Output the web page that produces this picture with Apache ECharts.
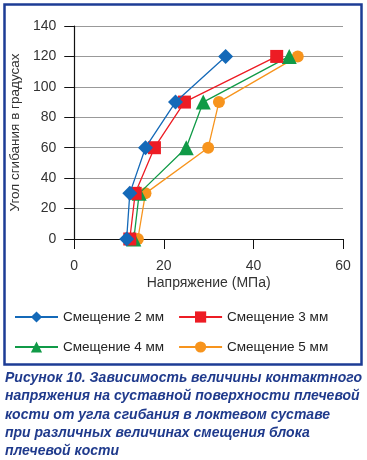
<!DOCTYPE html>
<html>
<head>
<meta charset="utf-8">
<script src="https://cdn.jsdelivr.net/npm/echarts@6/dist/echarts.min.js"></script>
<style>
html,body{margin:0;padding:0;background:#fff;}
#chart{width:367px;height:460px;}
</style>
</head>
<body>
<div id="chart"></div>
<script>
const angles = [0, 30, 60, 90, 120];
const s2mm = [11.7, 12.4, 15.9, 22.6, 33.8];
const s3mm = [12.4, 13.6, 17.9, 24.6, 45.2];
const s4mm = [13.3, 14.5, 25.0, 28.8, 48.0];
const s5mm = [14.2, 15.9, 29.9, 32.3, 49.9];
const seriesNames = ['Смещение 2 мм', 'Смещение 3 мм', 'Смещение 4 мм', 'Смещение 5 мм'];
const xTicks = [0, 20, 40, 60];
const yTicks = [0, 20, 40, 60, 80, 100, 120, 140];
const xName = 'Напряжение (МПа)';
const yName = 'Угол сгибания в градусах';
const captionLines = [
  'Рисунок 10. Зависимость величины контактного',
  'напряжения на суставной поверхности плечевой',
  'кости от угла сгибания в локтевом суставе',
  'при различных величинах смещения блока',
  'плечевой кости'
];

const colors = ['#1469b8', '#ed1c24', '#109a47', '#f7941d'];
const symbols = ['diamond', 'rect', 'triangle', 'circle'];
const symSizes = [15, 13, 15, 12];
const allData = [s2mm, s3mm, s4mm, s5mm];
const font = 'Liberation Sans, Arial, sans-serif';

const series = allData.map((vals, i) => ({
  name: seriesNames[i],
  type: 'line',
  data: vals.map((v, j) => [v, angles[j]]),
  symbol: symbols[i],
  symbolSize: symSizes[i],
  lineStyle: { color: colors[i], width: 1.3 },
  itemStyle: { color: colors[i] },
  z: 10 - i
}));

const legendCommon = {
  padding: 0, itemWidth: 43, itemHeight: 14, itemGap: 14,
  textStyle: { fontSize: 13.5, color: '#222', fontFamily: font }
};

const chart = echarts.init(document.getElementById('chart'));
chart.setOption({
  animation: false,
  grid: { left: 74, right: 24, top: 26, bottom: 221 },
  xAxis: {
    type: 'value', min: xTicks[0], max: xTicks[xTicks.length - 1], interval: 20,
    name: xName, nameLocation: 'middle', nameGap: 37,
    nameTextStyle: { fontSize: 14, color: '#333', fontFamily: font },
    axisLine: { show: true, lineStyle: { color: '#111', width: 1.2 } },
    axisTick: { show: true, inside: false, length: 10, lineStyle: { color: '#111' } },
    axisLabel: { margin: 20, fontSize: 14, color: '#333', fontFamily: font },
    splitLine: { show: false }
  },
  yAxis: {
    type: 'value', min: yTicks[0], max: yTicks[yTicks.length - 1], interval: 20,
    name: yName, nameLocation: 'middle', nameGap: 52, nameRotate: 90,
    nameTextStyle: { fontSize: 13.5, color: '#333', fontFamily: font },
    axisLine: { show: true, lineStyle: { color: '#111', width: 1.2 } },
    axisTick: { show: true, inside: false, length: 10, lineStyle: { color: '#111' } },
    axisLabel: { margin: 18, fontSize: 14, color: '#333', fontFamily: font },
    splitLine: { show: true, lineStyle: { color: '#999', width: 1 } }
  },
  legend: [
    Object.assign({ data: [seriesNames[0], seriesNames[1]], left: 14, top: 310 }, legendCommon),
    Object.assign({ data: [seriesNames[2], seriesNames[3]], left: 14, top: 340 }, legendCommon)
  ],
  title: {
    text: captionLines.join('\n'),
    left: 5, top: 369, padding: 0,
    textStyle: {
      fontSize: 14, fontWeight: 'bold', fontStyle: 'italic', color: '#1f3a8c',
      fontFamily: font, lineHeight: 18.3
    }
  },
  graphic: [{
    type: 'rect',
    shape: { x: 4.5, y: 4.5, width: 357, height: 360 },
    style: { fill: 'none', stroke: '#1d3c95', lineWidth: 2.5 },
    silent: true, z: -1
  }],
  series: series
});
</script>
</body>
</html>
